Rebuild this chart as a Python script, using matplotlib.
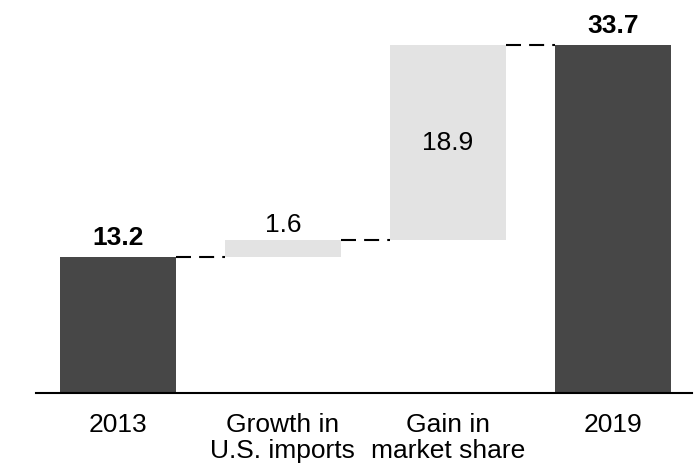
import matplotlib.pyplot as plt

plt.rcParams['font.family'] = ['Liberation Sans', 'DejaVu Sans']

categories = ['2013', 'Growth in\nU.S. imports', 'Gain in\nmarket share', '2019']
values = [13.2, 1.6, 18.9, 33.7]
is_total = [True, False, False, True]

dark = '#474747'
light = '#e3e3e3'
width = 0.7

fig = plt.figure(figsize=(6.98, 4.66), dpi=100)
ax = fig.add_axes([0.0516, 0.1567, 0.9398, 0.8433])

# running base for the waterfall steps
bottoms = []
tops = []
running = 0.0
for v, tot in zip(values, is_total):
    if tot:
        bottoms.append(0.0)
        running = v
    else:
        bottoms.append(running)
        running += v
    tops.append(bottoms[-1] + v)

x = list(range(len(values)))
colors = [dark if t else light for t in is_total]
ax.bar(x, values, width=width, bottom=bottoms, color=colors, zorder=2)

# dashed connectors between neighbouring bars
for i in range(len(values) - 1):
    ax.plot([i + width / 2, i + 1 - width / 2], [tops[i], tops[i]],
            color='black', lw=1.5, dashes=(7.2, 3.9), zorder=1)

for i, (v, tot) in enumerate(zip(values, is_total)):
    if tot:
        ax.annotate(f'{v:.1f}', (i, tops[i]), xytext=(0, 5), textcoords='offset points',
                    ha='center', va='bottom', fontsize=19, fontweight='bold')
    elif v < 5:
        ax.annotate(f'{v:.1f}', (i, tops[i]), xytext=(0, 2.5), textcoords='offset points',
                    ha='center', va='bottom', fontsize=19)
    else:
        ax.text(i, bottoms[i] + v / 2, f'{v:.1f}', ha='center', va='center', fontsize=19)

ax.set_xlim(-0.497, 3.48)
ax.set_ylim(0, 38.05)
ax.set_xticks(x)
ax.set_xticklabels(categories, fontsize=19, linespacing=1.12)
ax.tick_params(axis='x', length=0, pad=14.5)
ax.set_yticks([])
for s in ['top', 'right', 'left']:
    ax.spines[s].set_visible(False)
ax.spines['bottom'].set_linewidth(1.5)

plt.savefig('out.png', dpi=100)
